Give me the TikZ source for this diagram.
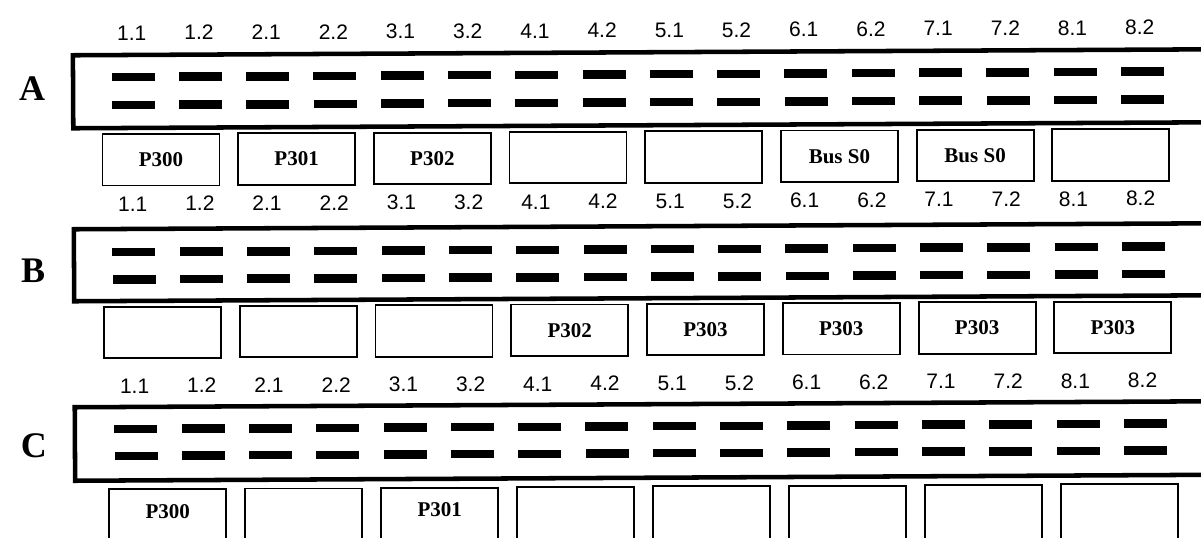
\documentclass[tikz,border=0pt]{standalone}
\usepackage{fontspec}
\setmainfont{Liberation Serif}
\setsansfont{Liberation Sans}
\begin{document}
\begin{tikzpicture}[x=0.75pt,y=-0.75pt,
  pinlbl/.style={font=\sffamily\fontsize{15.75}{16}\selectfont, inner sep=0pt},
  pinbar/.style={fill=black, draw=none, minimum width=32.25pt, minimum height=6.4pt, inner sep=0pt},
  frame/.style={line width=3.4pt},
  slot/.style={draw, line width=1.4pt, minimum width=87.75pt, inner sep=0pt,
    font=\bfseries\fontsize{15.75}{16}\selectfont},
  slottxt/.style={font=\bfseries\fontsize{15.75}{16}\selectfont, inner sep=0pt},
  rowlbl/.style={font=\bfseries\fontsize{27}{28}\selectfont, inner sep=0pt}]
\useasboundingbox (0,0) rectangle (1201,537);
\clip (0,0) rectangle (1201,537);
\begin{scope}[rotate around={0.3:(600,268)}]
% ---------------- Row A ----------------
\node[rowlbl] (A) at (33,86) {A};
\foreach \l [count=\k from 0] in {1.1,1.2,2.1,2.2,3.1,3.2,4.1,4.2,5.1,5.2,6.1,6.2,7.1,7.2,8.1,8.2}
  \node[pinlbl] (A-l\k) at ({133+67.2*\k},30.5) {\l};
\coordinate (A-tr) at (1240,52.5);
\coordinate (A-tl) at (74,52.5);
\coordinate (A-bl) at (74,125.5);
\coordinate (A-br) at (1240,125.5);
\draw[frame] (A-tr) -- (A-tl) -- (A-bl) -- (A-br);
\foreach \k in {0,...,15}{
  \node[pinbar] (A-u\k) at ({134+67.3*\k},74.5) {};
  \node[pinbar] (A-d\k) at ({134+67.3*\k},102.5) {};
}
\foreach \t [count=\j from 0] in {P300,P301,P302,{},{},Bus S0,Bus S0,{}}
  \node[slot, minimum height=38.6pt] (A-s\j) at ({161.5+135.7*\j},157.5) {\t};
% ---------------- Row B ----------------
\node[rowlbl] (B) at (33,268) {B};
\foreach \l [count=\k from 0] in {1.1,1.2,2.1,2.2,3.1,3.2,4.1,4.2,5.1,5.2,6.1,6.2,7.1,7.2,8.1,8.2}
  \node[pinlbl] (B-l\k) at ({133+67.2*\k},201.5) {\l};
\coordinate (B-tr) at (1240,226.5);
\coordinate (B-tl) at (74,226.5);
\coordinate (B-bl) at (74,298.5);
\coordinate (B-br) at (1240,298.5);
\draw[frame] (B-tr) -- (B-tl) -- (B-bl) -- (B-br);
\foreach \k in {0,...,15}{
  \node[pinbar] (B-u\k) at ({134+67.3*\k},249.5) {};
  \node[pinbar] (B-d\k) at ({134+67.3*\k},277) {};
}
\foreach \t [count=\j from 0] in {{},{},{},P302,P303,P303,P303,P303}
  \node[slot, minimum height=38.6pt] (B-s\j) at ({162+135.8*\j},330) {\t};
% ---------------- Row C ----------------
\node[rowlbl] (C) at (33,443) {C};
\foreach \l [count=\k from 0] in {1.1,1.2,2.1,2.2,3.1,3.2,4.1,4.2,5.1,5.2,6.1,6.2,7.1,7.2,8.1,8.2}
  \node[pinlbl] (C-l\k) at ({134+67.2*\k},383.5) {\l};
\coordinate (C-tr) at (1240,404.5);
\coordinate (C-tl) at (74,404.5);
\coordinate (C-bl) at (74,478);
\coordinate (C-br) at (1240,478);
\draw[frame] (C-tr) -- (C-tl) -- (C-bl) -- (C-br);
\foreach \k in {0,...,15}{
  \node[pinbar] (C-u\k) at ({135+67.3*\k},426.5) {};
  \node[pinbar] (C-d\k) at ({135+67.3*\k},453.5) {};
}
\foreach \t [count=\j from 0] in {P300,{},P301,{},{},{},{},{}}{
  \node[slot, anchor=north, minimum height=60pt] (C-s\j) at ({166.5+136*\j},486) {};
  \node[slottxt] (C-t\j) at ({166.5+136*\j},509) {\t};
}
\end{scope}
\end{tikzpicture}
\end{document}
